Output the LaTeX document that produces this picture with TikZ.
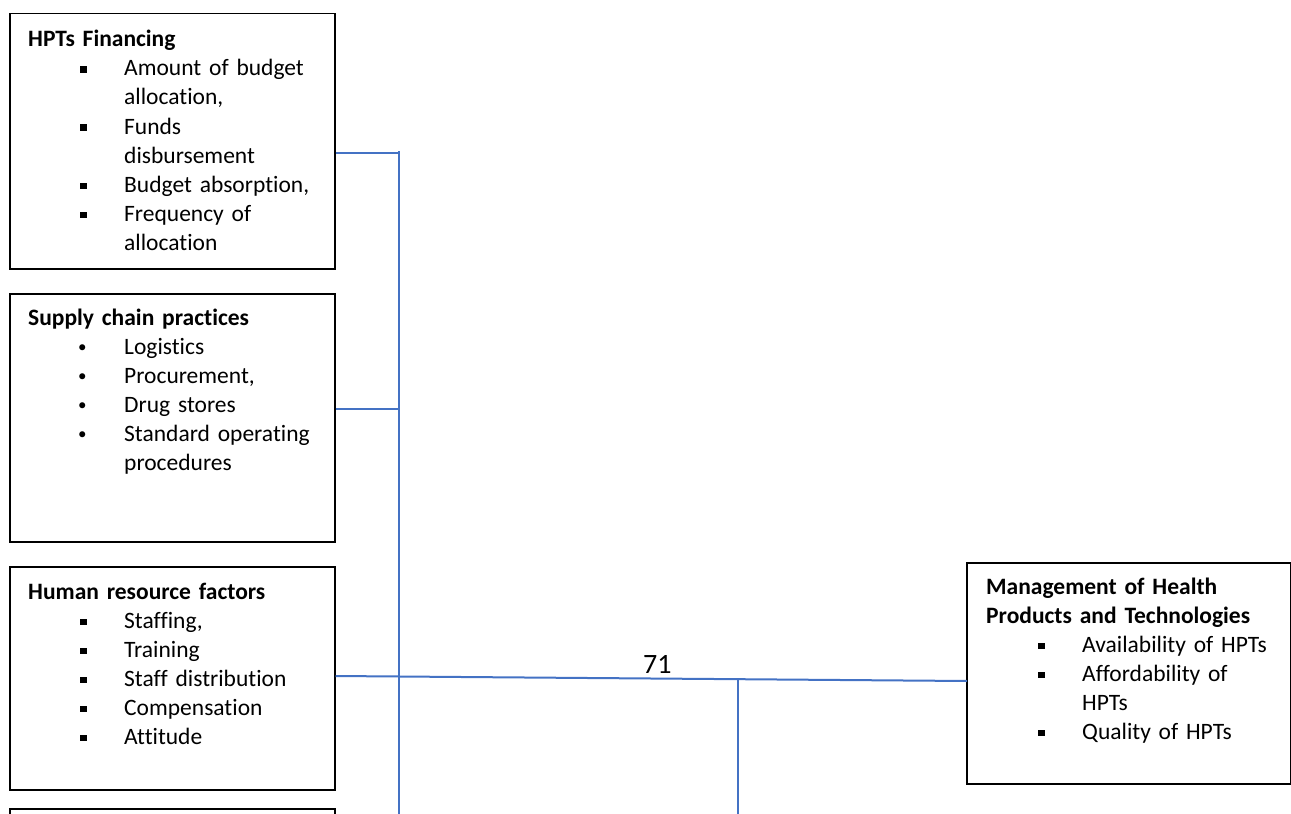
\documentclass[tikz,border=0pt]{standalone}
\usepackage{fontspec}
\setmainfont{Carlito}[Ligatures=NoCommon]
\usetikzlibrary{calc}

% bullets: filled square and round dot, each followed by the hanging gap
\newcommand\sqbul{\hspace*{52bp}\makebox[44bp][l]{\rule[3bp]{6.5bp}{6.5bp}}}
\newcommand\dotbul{\hspace*{50bp}\makebox[46bp][l]{\raisebox{2bp}{\fontsize{17bp}{17bp}\selectfont •}}}
\newcommand\cont{\hspace*{96bp}}

\definecolor{linkblue}{HTML}{4472C4}

\tikzset{
  factorbox/.style={draw=black, line width=1.5bp, minimum width=325bp,
    anchor=north west, inner sep=0pt},
  outcomebox/.style={draw=black, line width=1.5bp, minimum width=324bp,
    minimum height=221bp, anchor=north west, inner sep=0pt},
  boxtext/.style={anchor=base west, inner sep=0pt, text width=320bp, align=left,
    font=\fontsize{23.5bp}{29bp}\selectfont},
  link/.style={draw=linkblue, line width=2bp},
  numlabel/.style={anchor=base west, inner sep=0pt, font=\fontsize{28bp}{32bp}\selectfont}
}

\begin{document}
\begin{tikzpicture}[x=1bp, y=-1bp]
\useasboundingbox (0,0) rectangle (1291,814);
\begin{scope}
\clip (0,0) rectangle (1291,814);

% factor boxes on the left
\node[factorbox, minimum height=255bp] (fin) at (9,13) {};
\node[factorbox, minimum height=248bp] (sup) at (9,293) {};
\node[factorbox, minimum height=223bp] (hr)  at (9,566) {};
\node[factorbox, minimum height=120bp] (more) at (9,808) {};

% outcome box on the right
\node[outcomebox] (mgmt) at (966,562) {};

% box contents
\node[boxtext] (fintxt) at (28,47) {\textbf{HPTs Financing}\\
\sqbul Amount of budget\\
\cont allocation,\\
\sqbul Funds\\
\cont disbursement\\
\sqbul Budget absorption,\\
\sqbul Frequency of\\
\cont allocation};

\node[boxtext] (suptxt) at (28,325) {\textbf{Supply chain practices}\\
\dotbul Logistics\\
\dotbul Procurement,\\
\dotbul Drug stores\\
\dotbul Standard operating\\
\cont procedures};

\node[boxtext] (hrtxt) at (28,599) {\textbf{Human resource factors}\\
\sqbul Staffing,\\
\sqbul Training\\
\sqbul Staff distribution\\
\sqbul Compensation\\
\sqbul Attitude};

\node[boxtext, text width=300bp] (mgmttxt) at (986,594) {\textbf{Management of Health}\\
\textbf{Products and Technologies}\\
\sqbul Availability of HPTs\\
\sqbul Affordability of\\
\cont HPTs\\
\sqbul Quality of HPTs};

% junction points on the vertical bus
\coordinate (bustop) at (399,151);
\coordinate (busbot) at (399,814);
\coordinate (jfin) at (399,153);
\coordinate (jsup) at (399,409);
\coordinate (jhr)  at (399,676);
\coordinate (mgmtin) at (967,681);

% connectors
\draw[link] (bustop) -- (busbot);
\draw[link] (fin.east |- jfin) -- (jfin);
\draw[link] (sup.east |- jsup) -- (jsup);
\draw[link] (hr.east |- jhr) -- (mgmtin);

% branch dropping from the main line
\coordinate (jmid) at ($(hr.east |- jhr)!0.638!(mgmtin)$);
\coordinate (midbot) at (jmid |- busbot);
\draw[link] (jmid) -- (midbot);

\node[numlabel] (num) at (643,673) {71};
\end{scope}
\end{tikzpicture}
\end{document}
